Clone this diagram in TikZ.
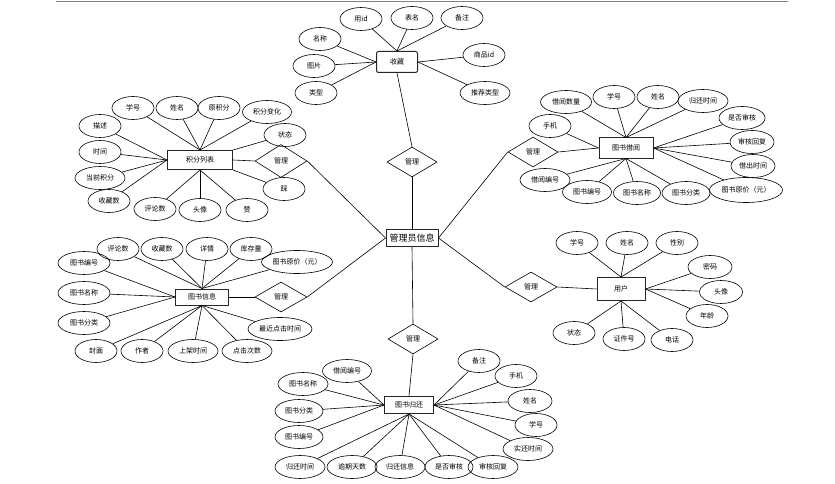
\documentclass[tikz,border=0pt]{standalone}
\usepackage{fontspec}
\setmainfont{Noto Sans CJK SC}
\usetikzlibrary{shapes.geometric}
\tikzset{
  attr/.style={ellipse,draw=black,line width=0.6pt,minimum width=42pt,minimum height=23pt,inner sep=0pt,font=\fontsize{7}{8}\selectfont},
  ent/.style={rectangle,draw=black!85,line width=1pt,inner sep=0pt,font=\fontsize{7}{8}\selectfont},
  rel/.style={diamond,draw=black,line width=0.6pt,minimum width=50pt,minimum height=30pt,inner sep=0pt,aspect=1.7,font=\fontsize{7}{8}\selectfont},
  link/.style={draw=black,line width=0.6pt}
}
\begin{document}
\begin{tikzpicture}[x=1pt,y=-1pt]
\useasboundingbox (0,0) rectangle (835,484);
\draw[gray,line width=1.2pt] (56,1.5) -- (788,1.5);

% center
\node[ent,minimum width=52pt,minimum height=17pt,font=\fontsize{9}{10}\selectfont] (M) at (412,238) {管理员信息};

% 收藏
\node[ent,rounded corners=2pt,minimum width=41pt,minimum height=21pt] (S) at (397,62) {收藏};
\node[attr] (s1) at (361,19) {用id};
\node[attr] (s2) at (412,18) {表名};
\node[attr] (s3) at (462,18) {备注};
\node[attr] (s4) at (320,39) {名称};
\node[attr] (s5) at (314,66) {图片};
\node[attr] (s6) at (316,93) {类型};
\node[attr] (s7) at (484,55) {商品id};
\node[attr,minimum width=50pt] (s8) at (485,93) {推荐类型};
\foreach \e in {s1,s2,s3} \draw[link] (\e) -- (S.north);
\foreach \e in {s4,s5,s6} \draw[link] (\e) -- (S.west);
\foreach \e in {s7,s8} \draw[link] (\e) -- (S.east);
\node[rel] (D1) at (412,162) {管理};
\draw[link] (S.south) -- (D1.north);
\draw[link] (D1.south) -- (M.north);

% 积分列表
\node[ent,minimum width=65pt,minimum height=19pt] (J) at (200,160) {积分列表};
\node[attr] (j1) at (133,108) {学号};
\node[attr] (j2) at (177,108) {姓名};
\node[attr] (j3) at (219,108) {原积分};
\node[attr,minimum width=49pt] (j4) at (267,112) {积分变化};
\node[attr] (j5) at (100,126) {描述};
\node[attr] (j6) at (100,152) {时间};
\node[attr,minimum width=50pt] (j7) at (100,178) {当前积分};
\node[attr] (j8) at (109,201) {收藏数};
\node[attr] (j9) at (155,209) {评论数};
\node[attr] (j10) at (200,210) {头像};
\node[attr] (j11) at (247,210) {赞};
\node[attr] (j12) at (285,135) {状态};
\node[attr] (j13) at (284,189) {踩};
\foreach \e in {j1,j2,j3,j4} \draw[link] (\e) -- (J.north);
\foreach \e in {j5,j6,j7,j8} \draw[link] (\e) -- (J.west);
\foreach \e in {j9,j10,j11} \draw[link] (\e) -- (J.south);
\draw[link] (j12) -- (J.north east);
\draw[link] (j13) -- (J.south east);
\node[rel,minimum width=52pt,minimum height=33pt] (D2) at (281,161) {管理};
\draw[link] (J.east) -- (D2.west);
\draw[link] (D2.east) -- (M.west);

% 图书借阅
\node[ent,minimum width=54pt,minimum height=20pt] (B) at (626,148) {图书借阅};
\node[attr,minimum width=51pt] (b1) at (566,102) {借阅数量};
\node[attr] (b2) at (614,97) {学号};
\node[attr] (b3) at (658,97) {姓名};
\node[attr,minimum width=50pt] (b4) at (703,101) {归还时间};
\node[attr] (b5) at (550,126) {手机};
\node[attr,minimum width=46pt] (b6) at (742,118) {是否审核};
\node[attr,minimum width=44pt] (b7) at (752,142) {审核回复};
\node[attr,minimum width=44pt] (b8) at (753,166) {借出时间};
\node[attr,minimum width=50pt] (b9) at (545,180) {借阅编号};
\node[attr,minimum width=49pt] (b10) at (587,192) {图书编号};
\node[attr,minimum width=47pt] (b11) at (637,193) {图书名称};
\node[attr,minimum width=48pt] (b12) at (686,193) {图书分类};
\node[attr,minimum width=73pt,minimum height=25pt] (b13) at (746,190) {图书原价（元）};
\foreach \e in {b1,b2,b3,b4} \draw[link] (\e) -- (B.north);
\draw[link] (b5) -- (B.west);
\foreach \e in {b6,b7,b8,b13} \draw[link] (\e) -- (B.east);
\foreach \e in {b9,b10,b11,b12} \draw[link] (\e) -- (B.south);
\node[rel] (D3) at (533,152) {管理};
\draw[link] (D3.east) -- (B.west);
\draw[link] (D3.west) -- (M.east);

% 图书信息
\node[ent,minimum width=53pt,minimum height=16pt] (I) at (202,297) {图书信息};
\node[attr] (i1) at (118,249) {评论数};
\node[attr] (i2) at (162,249) {收藏数};
\node[attr] (i3) at (207,249) {详情};
\node[attr] (i4) at (251,249) {库存量};
\node[attr,minimum width=71pt] (i5) at (297,262) {图书原价（元）};
\node[attr,minimum width=52pt] (i6) at (84,263) {图书编号};
\node[attr,minimum width=52pt] (i7) at (84,293) {图书名称};
\node[attr,minimum width=52pt] (i8) at (84,323) {图书分类};
\node[attr] (i9) at (96,351) {封面};
\node[attr] (i10) at (142,351) {作者};
\node[attr,minimum width=50pt] (i11) at (193,351) {上架时间};
\node[attr,minimum width=50pt] (i12) at (247,351) {点击次数};
\node[attr,minimum width=64pt] (i13) at (280,329) {最近点击时间};
\foreach \e in {i1,i2,i3,i4,i5} \draw[link] (\e) -- (I.north);
\foreach \e in {i6,i7,i8} \draw[link] (\e) -- (I.west);
\foreach \e in {i9,i10,i11,i12,i13} \draw[link] (\e) -- (I.south);
\node[rel,minimum width=52pt] (D4) at (281,297) {管理};
\draw[link] (I.east) -- (D4.west);
\draw[link] (D4.east) -- (M.west);

% 用户
\node[ent,minimum width=48pt,minimum height=23pt] (U) at (621,289) {用户};
\node[attr] (u1) at (577,243) {学号};
\node[attr] (u2) at (627,243) {姓名};
\node[attr] (u3) at (677,243) {性别};
\node[attr,minimum width=44pt] (u4) at (710,267) {密码};
\node[attr,minimum width=43pt] (u5) at (721,292) {头像};
\node[attr] (u6) at (707,316) {年龄};
\node[attr] (u7) at (574,333) {状态};
\node[attr] (u8) at (624,339) {证件号};
\node[attr] (u9) at (672,340) {电话};
\foreach \e in {u1,u2,u3} \draw[link] (\e) -- (U.north);
\foreach \e in {u4,u5,u6} \draw[link] (\e) -- (U.east);
\foreach \e in {u7,u8,u9} \draw[link] (\e) -- (U.south);
\node[rel,minimum width=52pt] (D5) at (531,287) {管理};
\draw[link] (D5.east) -- (U.west);
\draw[link] (D5.west) -- (M.east);

% 图书归还
\node[ent,minimum width=49pt,minimum height=17pt] (R) at (409,405) {图书归还};
\node[attr,minimum width=49pt] (r1) at (347,371) {借阅编号};
\node[attr,minimum width=50pt] (r2) at (303,384) {图书名称};
\node[attr,minimum width=48pt] (r3) at (299,411) {图书分类};
\node[attr,minimum width=48pt] (r4) at (299,437) {图书编号};
\node[attr,minimum width=50pt] (r5) at (300,467) {归还时间};
\node[attr,minimum width=50pt] (r6) at (352,467) {逾期天数};
\node[attr,minimum width=50pt] (r7) at (400,467) {归还信息};
\node[attr,minimum width=48pt] (r8) at (449,467) {是否审核};
\node[attr,minimum width=50pt] (r9) at (493,467) {审核回复};
\node[attr,minimum width=50pt] (r10) at (528,449) {实还时间};
\node[attr] (r11) at (536,425) {学号};
\node[attr,minimum width=44pt] (r12) at (530,401) {姓名};
\node[attr] (r13) at (516,376) {手机};
\node[attr] (r14) at (479,361) {备注};
\foreach \e in {r1,r2,r3,r4} \draw[link] (\e) -- (R.west);
\foreach \e in {r5,r6,r7,r8,r9} \draw[link] (\e) -- (R.south);
\foreach \e in {r10,r11,r12,r13,r14} \draw[link] (\e) -- (R.east);
\node[rel] (D6) at (413,339) {管理};
\draw[link] (M.south) -- (D6.north);
\draw[link] (D6.south) -- (R.north);
\end{tikzpicture}
\end{document}
